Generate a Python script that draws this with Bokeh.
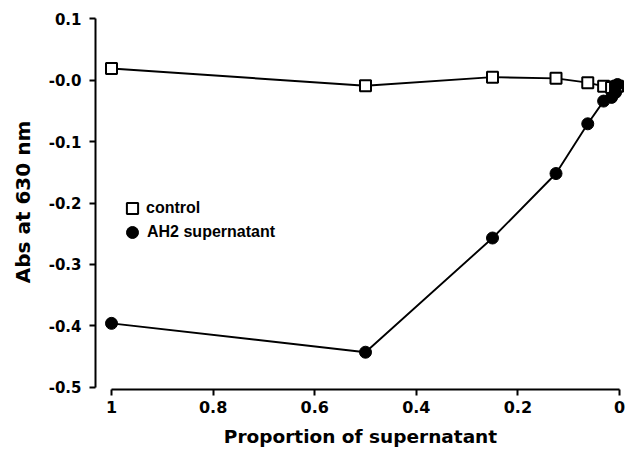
from bokeh.plotting import figure
from bokeh.models import Range1d, FixedTicker, Legend, LegendItem
from bokeh.embed import file_html
from bokeh.resources import INLINE

# ---- data ----
proportion = [1, 0.5, 0.25, 0.125, 0.0625, 0.03125, 0.015625, 0.0078125, 0.00390625]
control = [0.019, -0.009, 0.005, 0.003, -0.004, -0.010, -0.012, -0.011, -0.010]
ah2_supernatant = [-0.396, -0.443, -0.257, -0.152, -0.071, -0.034, -0.028, -0.020, -0.007]

x_ticks = [1, 0.8, 0.6, 0.4, 0.2, 0]
x_tick_labels = ["1", "0.8", "0.6", "0.4", "0.2", "0"]
y_ticks = [0.1, 0.0, -0.1, -0.2, -0.3, -0.4, -0.5]
y_tick_labels = ["0.1", "-0.0", "-0.1", "-0.2", "-0.3", "-0.4", "-0.5"]

series_names = ["control", "AH2 supernatant"]
x_title = "Proportion of supernatant"
y_title = "Abs at 630 nm"

p = figure(width=625, height=465, output_backend="svg", toolbar_location=None,
           x_range=Range1d(1.0315, -0.0118), y_range=Range1d(-0.5037, 0.107),
           min_border_left=95, min_border_right=0, min_border_top=14, min_border_bottom=76)
p.outline_line_color = None
p.xgrid.visible = False
p.ygrid.visible = False
p.background_fill_color = "white"
p.border_fill_color = "white"

for ax in (p.xaxis, p.yaxis):
    ax.axis_line_width = 2
    ax.axis_line_color = "black"
    ax.major_tick_line_width = 2
    ax.major_tick_line_color = "black"
    ax.major_tick_out = 6
    ax.major_tick_in = 0
    ax.minor_tick_line_color = None
    ax.major_label_text_font = "DejaVu Sans"
    ax.major_label_text_font_style = "bold"
    ax.major_label_text_color = "black"
    ax.axis_label_text_font = "DejaVu Sans"
    ax.axis_label_text_font_style = "bold"
    ax.axis_label_text_color = "black"

p.xaxis.ticker = FixedTicker(ticks=x_ticks)
p.xaxis.major_label_overrides = {float(t): l for t, l in zip(x_ticks, x_tick_labels)}
p.xaxis.bounds = (0, 1)
p.xaxis.major_label_text_font_size = "16px"
p.xaxis.major_label_standoff = 5
p.xaxis.axis_label = x_title
p.xaxis.axis_label_text_font_size = "18.5px"
p.xaxis.axis_label_standoff = 10

p.yaxis.ticker = FixedTicker(ticks=y_ticks)
p.yaxis.major_label_overrides = {float(t): l for t, l in zip(y_ticks, y_tick_labels)}
p.yaxis.bounds = (-0.5, 0.1)
p.yaxis.major_label_text_font_size = "15px"
p.yaxis.major_label_standoff = 8
p.yaxis.axis_label = y_title
p.yaxis.axis_label_text_font_size = "20px"
p.yaxis.axis_label_standoff = 11

# control series
p.line(proportion, control, line_color="black", line_width=1.9)
sq = p.scatter(proportion, control, marker="square", size=11, fill_color="white",
               line_color="black", line_width=2)

# AH2 supernatant series
p.line(proportion, ah2_supernatant, line_color="black", line_width=1.9)
ci = p.scatter(proportion, ah2_supernatant, marker="circle", size=12, fill_color="black",
               line_color="black", line_width=1)

legend_style = dict(orientation="vertical", padding=0, margin=0, spacing=0,
                    label_standoff=0, label_text_font="Liberation Sans",
                    label_text_font_style="bold", label_text_font_size="16px",
                    label_text_color="black", border_line_color=None,
                    background_fill_alpha=0)
legend_control = Legend(items=[LegendItem(label=series_names[0], renderers=[sq])],
                        location=(23, 167), glyph_width=28, glyph_height=28, **legend_style)
legend_ah2 = Legend(items=[LegendItem(label=series_names[1], renderers=[ci])],
                    location=(22, 142), glyph_width=30, glyph_height=30, **legend_style)
p.add_layout(legend_control, "center")
p.add_layout(legend_ah2, "center")

open("out.html", "w").write(file_html(p, INLINE))
